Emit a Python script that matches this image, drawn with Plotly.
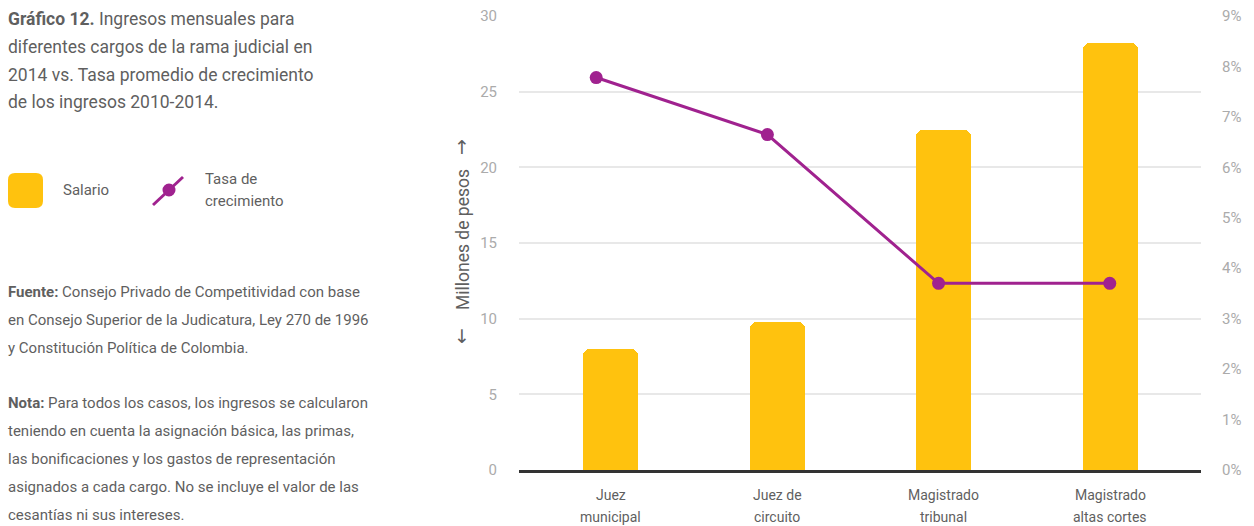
import plotly.graph_objects as go

# ---- data ----
categories = ["Juez municipal", "Juez de circuito", "Magistrado tribunal", "Magistrado altas cortes"]
cat_line1 = ["Juez", "Juez de", "Magistrado", "Magistrado"]
cat_line2 = ["municipal", "circuito", "tribunal", "altas cortes"]
salario = [8.0, 9.8, 22.5, 28.2]          # millones de pesos
tasa = [7.78, 6.65, 3.70, 3.70]           # % crecimiento promedio
left_ticks = [0, 5, 10, 15, 20, 25, 30]
right_ticks = [0, 1, 2, 3, 4, 5, 6, 7, 8, 9]
right_tick_labels = ["0%", "1%", "2%", "3%", "4%", "5%", "6%", "7%", "8%", "9%"]

title_lines = [
    "<b>Gráfico 12.</b> Ingresos mensuales para",
    "diferentes cargos de la rama judicial en",
    "2014 vs. Tasa promedio de crecimiento",
    "de los ingresos 2010-2014.",
]
fuente_lines = [
    "<b>Fuente:</b> Consejo Privado de Competitividad con base",
    "en Consejo Superior de la Judicatura, Ley 270 de 1996",
    "y Constitución Política de Colombia.",
]
nota_lines = [
    "<b>Nota:</b> Para todos los casos, los ingresos se calcularon",
    "teniendo en cuenta la asignación básica, las primas,",
    "las bonificaciones y los gastos de representación",
    "asignados a cada cargo. No se incluye el valor de las",
    "cesantías ni sus intereses.",
]

YELLOW = "#FFC20E"
PURPLE = "#A0228F"
TEXT = "#5f5f5f"
TICK = "#ababab"
FONT = "Roboto"

W, H = 1254, 526
L, R, T, B = 519, 1201, 16, 470


def px(x):
    return (x - L) / (R - L)


def py(y):
    return (B - y) / (B - T)


fig = go.Figure()
fig.add_trace(go.Bar(
    x=categories, y=salario, name="Salario",
    marker=dict(color=YELLOW, cornerradius=7, line=dict(width=0)),
    width=0.33, xaxis="x", yaxis="y",
))
fig.add_trace(go.Scatter(
    x=categories, y=tasa, name="Tasa de crecimiento", mode="lines+markers",
    line=dict(color=PURPLE, width=3),
    marker=dict(color=PURPLE, size=13),
    xaxis="x2", yaxis="y2",
))

annotations = []


def text(x, y, s, size, color=TEXT, xanchor="left", angle=0, family=FONT):
    annotations.append(dict(
        x=px(x), y=py(y), xref="paper", yref="paper", text=s, showarrow=False,
        xanchor=xanchor, yanchor="middle", textangle=angle,
        font=dict(family=family, size=size, color=color),
    ))


for i, s in enumerate(title_lines):
    text(6, [19, 47, 75, 102][i], s, 17.5)
for i, s in enumerate(fuente_lines):
    text(6, [292, 320, 348][i], s, 15)
for i, s in enumerate(nota_lines):
    text(6, [403, 431, 459, 487, 515][i], s, 15)

text(61, 190, "Salario", 15)
text(203, 179, "Tasa de", 15)
text(203, 201, "crecimiento", 15)

# y-axis title with arrows
text(463, 240, "Millones de pesos", 17.5, xanchor="center", angle=-90)
text(462, 147, "↑", 19, xanchor="center", family="DejaVu Sans")
text(462, 336, "↓", 19, xanchor="center", family="DejaVu Sans")

# category labels
for c, a, b in zip(categories, cat_line1, cat_line2):
    for s, yy in ((a, 495), (b, 517)):
        annotations.append(dict(
            x=c, y=py(yy), xref="x", yref="paper", text=s, showarrow=False,
            xanchor="center", yanchor="middle",
            font=dict(family=FONT, size=14, color=TEXT),
        ))

shapes = [
    # legend: rounded yellow square
    dict(type="path", xref="paper", yref="paper", xsizemode="pixel", ysizemode="pixel",
         xanchor=px(25.5), yanchor=py(190.5),
         path="M -10.5,-17.5 L 10.5,-17.5 Q 17.5,-17.5 17.5,-10.5 L 17.5,10.5 "
              "Q 17.5,17.5 10.5,17.5 L -10.5,17.5 Q -17.5,17.5 -17.5,10.5 "
              "L -17.5,-10.5 Q -17.5,-17.5 -10.5,-17.5 Z",
         fillcolor=YELLOW, line=dict(width=0)),
    # legend: purple line with dot
    dict(type="line", xref="paper", yref="paper", xsizemode="pixel", ysizemode="pixel",
         xanchor=px(169), yanchor=py(190), x0=-16, x1=14, y0=-15, y1=13,
         line=dict(color=PURPLE, width=3)),
    dict(type="circle", xref="paper", yref="paper", xsizemode="pixel", ysizemode="pixel",
         xanchor=px(169), yanchor=py(190), x0=-6.5, x1=6.5, y0=-6.5, y1=6.5,
         fillcolor=PURPLE, line=dict(width=0)),
]

fig.update_layout(
    width=W, height=H,
    margin=dict(l=L, r=W - R, t=T, b=H - B, pad=0, autoexpand=False),
    paper_bgcolor="white", plot_bgcolor="white",
    showlegend=False,
    bargap=0,
    font=dict(family=FONT),
    xaxis=dict(
        type="category", range=[-0.55, 3.544], showticklabels=False, ticks="",
        showgrid=False, zeroline=False, showline=True, linecolor="#333333",
        linewidth=3, layer="above traces", fixedrange=True, automargin=False,
    ),
    xaxis2=dict(
        type="category", overlaying="x", range=[-0.451, 3.533], visible=False,
        anchor="y", automargin=False,
    ),
    yaxis=dict(
        range=[0, 30], tickvals=left_ticks, ticks="",
        tickfont=dict(family=FONT, size=15, color=TICK),
        ticklabelstandoff=21, automargin=False,
        showgrid=True, gridcolor="rgba(0,0,0,0.09)", gridwidth=2,
        zeroline=False, showline=False, layer="above traces",
    ),
    yaxis2=dict(
        range=[0, 9], overlaying="y", side="right", anchor="x",
        tickmode="array", tickvals=right_ticks, ticktext=right_tick_labels, ticks="",
        tickfont=dict(family=FONT, size=15, color=TICK),
        ticklabelstandoff=20, automargin=False,
        showgrid=False, zeroline=False, showline=False,
    ),
    annotations=annotations,
    shapes=shapes,
)

fig.write_html("out.html")
